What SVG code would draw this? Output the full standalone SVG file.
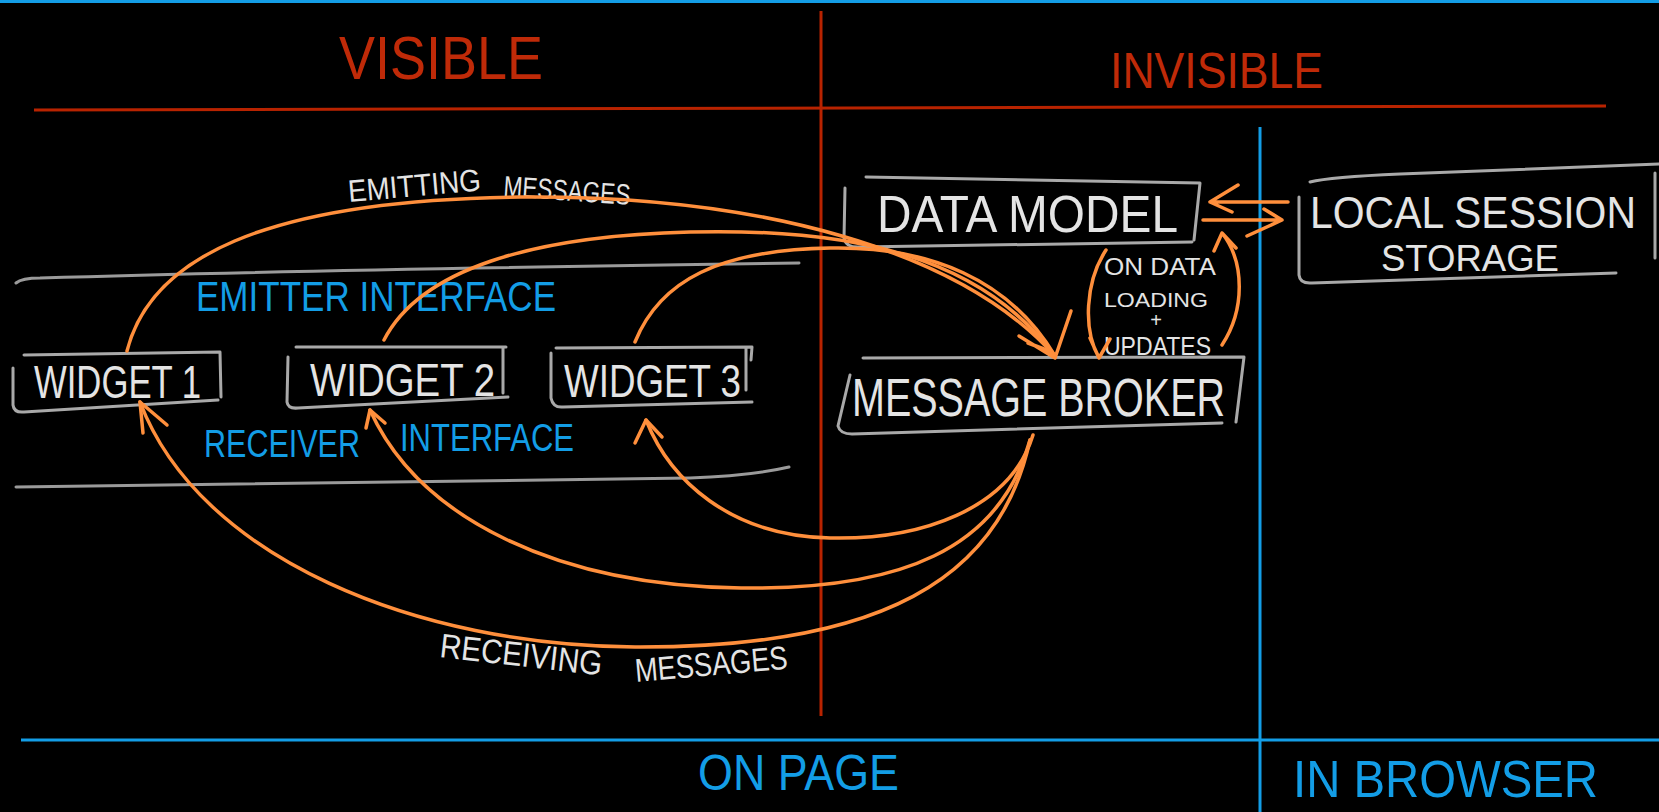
<svg xmlns="http://www.w3.org/2000/svg" width="1659" height="812" viewBox="0 0 1659 812">
<style>
.bg{fill:#000}
.red{stroke:#b82300;stroke-width:3;fill:none}
.blue{stroke:#139de6;stroke-width:3;fill:none}
.box{stroke:#a9a9a9;stroke-width:3;fill:none;stroke-linecap:round;stroke-linejoin:round}
.grey{stroke:#9a9a9a;stroke-width:3;fill:none;stroke-linecap:round}
.or{stroke:#ff8f3c;stroke-width:3.5;fill:none;stroke-linecap:round;stroke-linejoin:round}
text{font-family:"Liberation Sans",Arial,sans-serif}
.rt{fill:#bf2a08}
.bt{fill:#139de6}
.wt{fill:#e4e4e4}
</style>
<rect class="bg" x="0" y="0" width="1659" height="812"/>
<g id="frame">
<line class="blue" x1="0" y1="1.5" x2="1659" y2="1.5"/>
<line class="red" x1="821" y1="11" x2="821" y2="716"/>
<line class="red" x1="34" y1="110" x2="1606" y2="106"/>
<line class="blue" x1="1260" y1="127" x2="1260" y2="812"/>
<line class="blue" x1="21" y1="740" x2="1659" y2="740"/>
<path class="grey" d="M16,283 Q22,278 40,278 Q300,270 799,263"/>
<path class="grey" d="M16,487 L690,478 Q750,476 789,467"/>
</g>
<g id="labels">
<text class="rt" x="339" y="79" font-size="62" textLength="204" lengthAdjust="spacingAndGlyphs">VISIBLE</text>
<text class="rt" x="1110" y="88" font-size="50" textLength="213" lengthAdjust="spacingAndGlyphs">INVISIBLE</text>
<text class="bt" x="196" y="311" font-size="42" textLength="360" lengthAdjust="spacingAndGlyphs">EMITTER INTERFACE</text>
<text class="bt" x="204" y="457" font-size="38" textLength="156" lengthAdjust="spacingAndGlyphs">RECEIVER</text>
<text class="bt" x="400" y="451" font-size="38" textLength="174" lengthAdjust="spacingAndGlyphs">INTERFACE</text>
<text class="bt" x="698" y="790" font-size="50" textLength="201" lengthAdjust="spacingAndGlyphs">ON PAGE</text>
<text class="bt" x="1293" y="797" font-size="52" textLength="305" lengthAdjust="spacingAndGlyphs">IN BROWSER</text>
<text class="wt" x="349" y="202" font-size="31" textLength="133" lengthAdjust="spacingAndGlyphs" transform="rotate(-5 349 202)">EMITTING</text>
<text class="wt" x="503" y="196" font-size="29" textLength="127" lengthAdjust="spacingAndGlyphs" transform="rotate(4 503 196)">MESSAGES</text>
<text class="wt" x="439" y="657" font-size="34" textLength="163" lengthAdjust="spacingAndGlyphs" transform="rotate(6.5 439 657)">RECEIVING</text>
<text class="wt" x="636" y="682" font-size="33" textLength="153" lengthAdjust="spacingAndGlyphs" transform="rotate(-5 636 682)">MESSAGES</text>
<text class="wt" x="1104" y="275" font-size="24" textLength="112" lengthAdjust="spacingAndGlyphs">ON DATA</text>
<text class="wt" x="1104" y="307" font-size="21" textLength="104" lengthAdjust="spacingAndGlyphs">LOADING</text>
<text class="wt" x="1156" y="327" font-size="20" text-anchor="middle">+</text>
<text class="wt" x="1104" y="355" font-size="26" textLength="107" lengthAdjust="spacingAndGlyphs">UPDATES</text>
</g>
<g id="widget1">
<path class="box" d="M24,355 L220,352 L221,397 M13,368 L13,405 Q14,413 24,412 L218,400"/>
<text class="wt" x="34" y="398" font-size="46" textLength="167" lengthAdjust="spacingAndGlyphs">WIDGET 1</text>
</g>
<g id="widget2">
<path class="box" d="M296,347 L506,347 M503,348 L503,393 M288,357 L287,402 Q288,409 298,408 L508,397"/>
<text class="wt" x="310" y="396" font-size="46" textLength="185" lengthAdjust="spacingAndGlyphs">WIDGET 2</text>
</g>
<g id="widget3">
<path class="box" d="M556,348 L752,347 L751,360 M746,348 L746,390 M551,353 L551,398 Q553,408 563,407 L752,402"/>
<text class="wt" x="564" y="397" font-size="46" textLength="177" lengthAdjust="spacingAndGlyphs">WIDGET 3</text>
</g>
<g id="data-model">
<path class="box" d="M866,177 L1200,183 L1194,240 M845,188 L844,238 Q846,248 860,247 L1192,242"/>
<text class="wt" x="877" y="232" font-size="52" textLength="301" lengthAdjust="spacingAndGlyphs">DATA MODEL</text>
</g>
<g id="message-broker">
<path class="box" d="M863,358 L1244,357 L1236,422 M850,375 L838,426 Q840,434 852,434 L1222,423"/>
<text class="wt" x="852" y="416" font-size="54" textLength="373" lengthAdjust="spacingAndGlyphs">MESSAGE BROKER</text>
</g>
<g id="local-session-storage">
<path class="box" d="M1310,182 Q1330,177 1400,174 L1659,164 M1299,197 L1299,275 Q1300,284 1312,283 L1616,273 M1655,173 L1655,258"/>
<text class="wt" x="1310" y="228" font-size="44" textLength="326" lengthAdjust="spacingAndGlyphs">LOCAL SESSION</text>
<text class="wt" x="1381" y="271" font-size="36" textLength="178" lengthAdjust="spacingAndGlyphs">STORAGE</text>
</g>
<g id="connectors">
<path class="or" d="M127,351 C150,260 260,200 520,197 C760,195 960,250 1055,356"/>
<path class="or" d="M384,340 C420,270 530,236 690,232 C850,228 980,255 1055,356"/>
<path class="or" d="M635,342 C660,280 720,250 830,248 C930,246 1010,280 1055,356"/>
<path class="or" d="M1019,336 L1055,358 L1071,311 M1028,343 L1052,352"/>
<path class="or" d="M1033,435 C1010,510 920,540 830,538 C730,536 670,480 646,420"/>
<path class="or" d="M1030,440 C1000,550 900,590 741,588 C560,586 420,520 370,410"/>
<path class="or" d="M1030,440 C1000,580 880,648 635,647 C420,646 200,560 140,402"/>
<path class="or" d="M143,433 L140,402 L167,425"/>
<path class="or" d="M366,428 L370,410 L385,423"/>
<path class="or" d="M635,443 L646,420 L662,437"/>
<path class="or" d="M1106,250 C1085,282 1083,330 1099,358 M1090,338 L1099,358 L1110,339"/>
<path class="or" d="M1222,345 C1245,310 1245,262 1222,233 M1214,251 L1222,233 L1236,248"/>
<path class="or" d="M1288,202 L1210,202 M1238,185 L1210,202 L1232,212"/>
<path class="or" d="M1203,220 L1282,220 M1247,236 L1282,220 L1264,209"/>
</g>
</svg>
